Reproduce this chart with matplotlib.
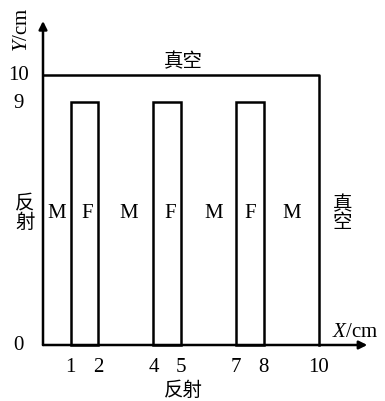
import matplotlib
matplotlib.use("Agg")
import matplotlib.pyplot as plt
from matplotlib.patches import Rectangle

# film layers (F) positions, width and height in cm
film_left = [1, 4, 7]
film_width = 1
film_height = 9
box_width = 10
box_height = 10
x_ticks = [0, 1, 2, 4, 5, 7, 8, 10]
y_ticks = [0, 9, 10]
m_centers = [0.5, 3.1, 6.2, 9.0]
f_centers = [1.6, 4.6, 7.5]

fam = ['Liberation Serif', 'Noto Sans CJK SC']
plt.rcParams['font.family'] = fam
plt.rcParams['mathtext.fontset'] = 'custom'
plt.rcParams['mathtext.it'] = 'Liberation Serif:italic'
plt.rcParams['mathtext.rm'] = 'Liberation Serif'

fig = plt.figure(figsize=(3.85, 4.02), dpi=100)
ax = fig.add_axes([0, 0, 1, 1])
ax.set_xlim(-43 / 27.6, (385 - 43) / 27.6)
ax.set_ylim(-(402 - 346) / 27.0, 346 / 27.0)
ax.axis('off')

lw = 1.8
# vacuum boundary
ax.plot([0, box_width, box_width], [box_height, box_height, 0], color='black', lw=lw)
# film rectangles
for x0 in film_left:
    ax.add_patch(Rectangle((x0, 0), film_width, film_height, fill=False, ec='black', lw=lw))

# axes arrows
ax.annotate('', xy=(0, 12.0), xytext=(0, 0),
            arrowprops=dict(arrowstyle='-|>', color='black', lw=lw, mutation_scale=12, shrinkA=0, shrinkB=0))
ax.annotate('', xy=(11.75, 0), xytext=(0, 0),
            arrowprops=dict(arrowstyle='-|>', color='black', lw=lw, mutation_scale=12, shrinkA=0, shrinkB=0))

fs = 15
for t in x_ticks[1:]:
    ax.text(t, -0.8, str(t), ha='center', va='center', fontsize=fs)
for t in y_ticks:
    ax.text(-0.9, t, str(t), ha='center', va='center', fontsize=fs)

ax.text(11.3, 0.5, r'$X$/cm', ha='center', va='center', fontsize=fs)
ax.text(-0.75, 11.7, r'$Y$/cm', ha='center', va='center', fontsize=fs, rotation=90)

for c in m_centers:
    ax.text(c, 4.9, 'M', ha='center', va='center', fontsize=fs)
for c in f_centers:
    ax.text(c, 4.9, 'F', ha='center', va='center', fontsize=fs)

cjk = 14
ax.text(5.1, 10.5, '真空', ha='center', va='center', fontsize=cjk)
ax.text(5.1, -1.65, '反射', ha='center', va='center', fontsize=cjk)
ax.text(-0.65, 4.9, '反\n射', ha='center', va='center', fontsize=cjk, linespacing=1.0)
ax.text(10.85, 4.9, '真\n空', ha='center', va='center', fontsize=cjk, linespacing=1.0)

fig.savefig('out.png', dpi=100)
